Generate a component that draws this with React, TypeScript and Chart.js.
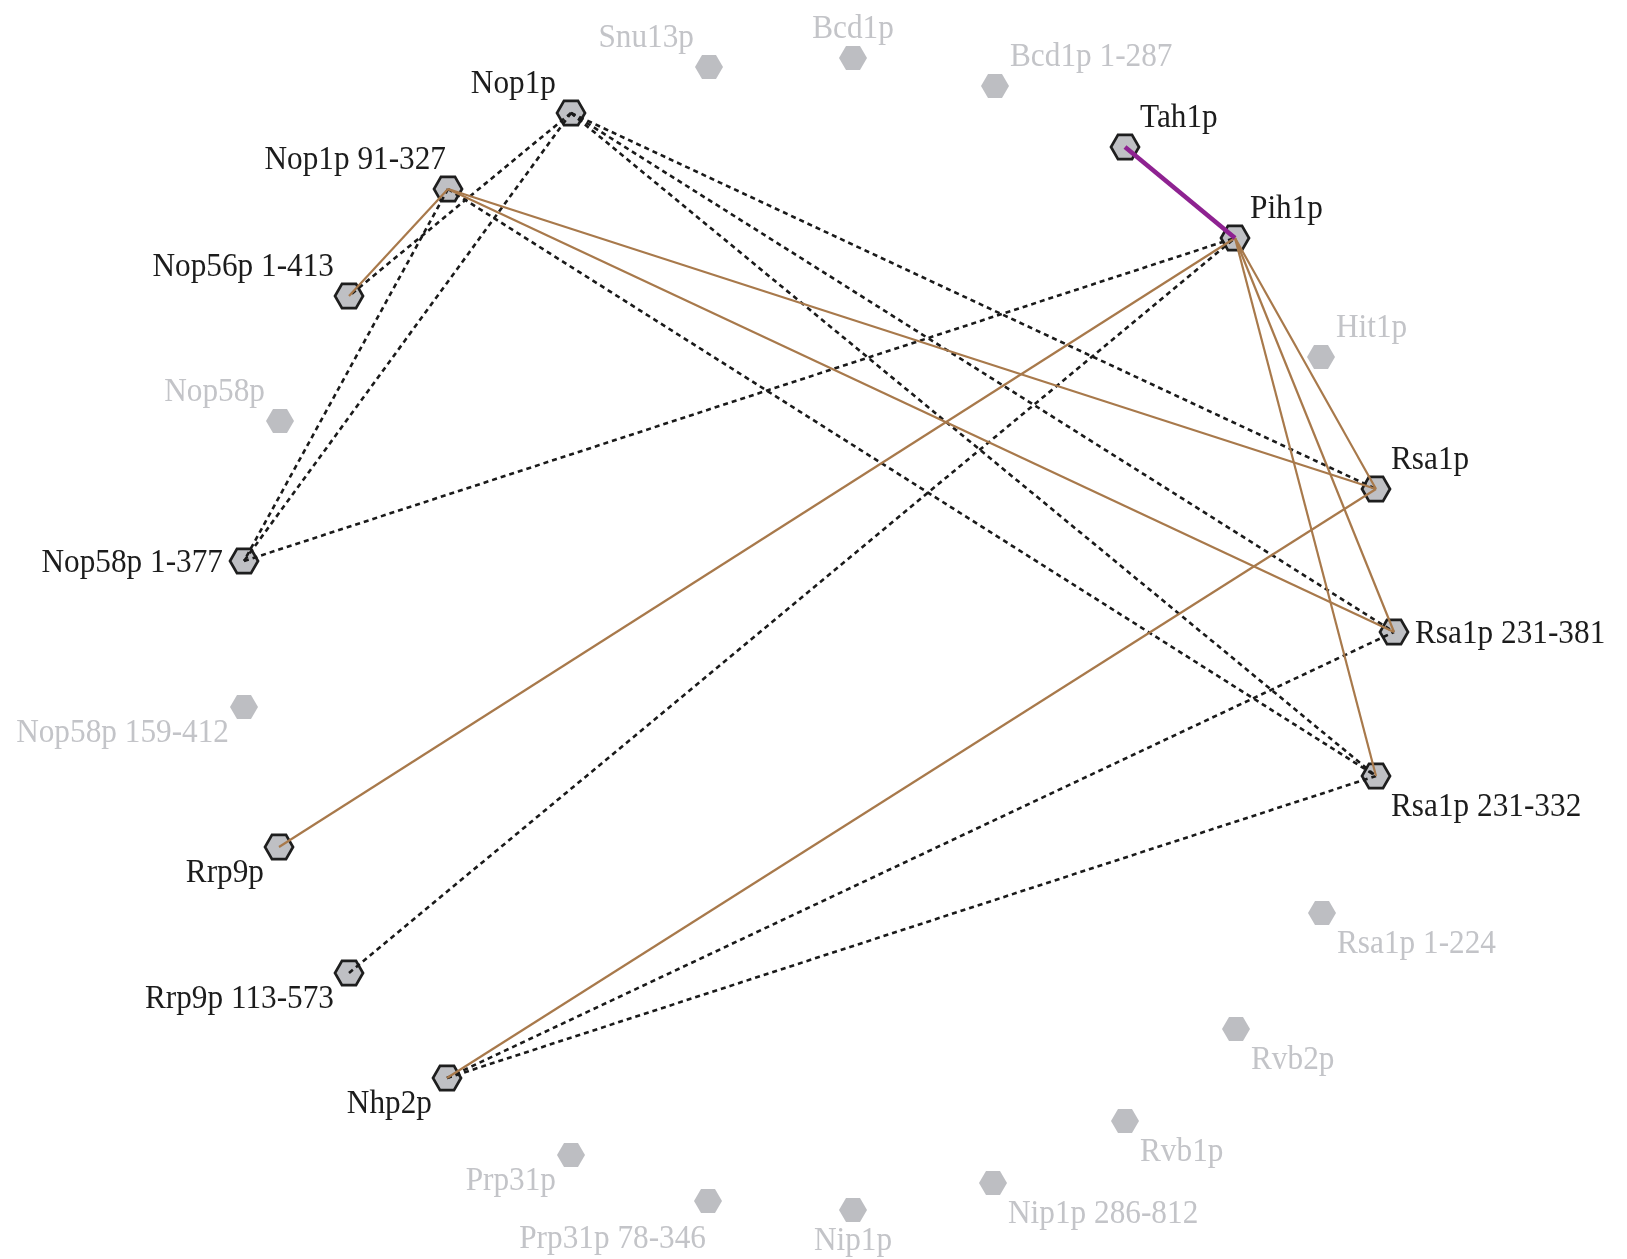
import React, { useEffect, useRef } from "react";
import { Chart, registerables } from "chart.js";

Chart.register(...registerables);

// Nodes that take part in interactions (dark outline, black label)
const activeNames = [
  "Nop1p", "Nop1p 91-327", "Nop56p 1-413", "Nop58p 1-377", "Rrp9p", "Rrp9p 113-573",
  "Nhp2p", "Tah1p", "Pih1p", "Rsa1p", "Rsa1p 231-381", "Rsa1p 231-332",
];
const activeX = [571, 448, 349, 244, 279, 349, 447, 1125, 1235, 1376, 1394, 1376];
const activeY = [113, 189, 296, 561, 847, 973, 1078, 147, 238, 489, 632, 776];

// Nodes without interactions (grey)
const inactiveNames = [
  "Snu13p", "Bcd1p", "Bcd1p 1-287", "Hit1p", "Nop58p", "Nop58p 159-412", "Rsa1p 1-224",
  "Rvb2p", "Rvb1p", "Nip1p 286-812", "Nip1p", "Prp31p 78-346", "Prp31p",
];
const inactiveX = [709, 853, 995, 1321, 280, 244, 1322, 1236, 1125, 993, 853, 708, 571];
const inactiveY = [67, 58, 86, 357, 421, 707, 913, 1029, 1121, 1183, 1210, 1201, 1155];

// Interactions
const solidEdges: [string, string][] = [
  ["Nop56p 1-413", "Nop1p 91-327"],
  ["Nop1p 91-327", "Rsa1p"],
  ["Nop1p 91-327", "Rsa1p 231-381"],
  ["Rrp9p", "Pih1p"],
  ["Nhp2p", "Rsa1p"],
  ["Pih1p", "Rsa1p"],
  ["Pih1p", "Rsa1p 231-381"],
  ["Pih1p", "Rsa1p 231-332"],
];
const dottedEdges: [string, string][] = [
  ["Nop1p", "Nop56p 1-413"],
  ["Nop1p", "Nop58p 1-377"],
  ["Nop1p 91-327", "Nop58p 1-377"],
  ["Nop1p", "Rsa1p"],
  ["Nop1p", "Rsa1p 231-381"],
  ["Nop1p", "Rsa1p 231-332"],
  ["Nop1p 91-327", "Rsa1p 231-332"],
  ["Nop58p 1-377", "Pih1p"],
  ["Rrp9p 113-573", "Pih1p"],
  ["Nhp2p", "Rsa1p 231-381"],
  ["Nhp2p", "Rsa1p 231-332"],
];
const purpleEdges: [string, string][] = [["Tah1p", "Pih1p"]];

const W = 1627;
const H = 1259;

// small label placement tweaks (pixels)
const labelNudge: Record<string, [number, number]> = {
  "Nop1p 91-327": [13, 0],
  "Prp31p 78-346": [13, 12],
};

function makeHex(fill: string, stroke: string | null) {
  const c = document.createElement("canvas");
  c.width = 34;
  c.height = 30;
  const ctx = c.getContext("2d")!;
  ctx.beginPath();
  for (let i = 0; i < 6; i++) {
    const a = (i * Math.PI) / 3;
    const x = 17 + 14 * Math.cos(a);
    const y = 15 + 14 * Math.sin(a);
    if (i === 0) ctx.moveTo(x, y);
    else ctx.lineTo(x, y);
  }
  ctx.closePath();
  ctx.fillStyle = fill;
  ctx.fill();
  if (stroke) {
    ctx.lineWidth = 2.7;
    ctx.strokeStyle = stroke;
    ctx.stroke();
  }
  return c;
}

function findNode(name: string) {
  let i = activeNames.indexOf(name);
  if (i >= 0) return { x: activeX[i], y: activeY[i] };
  i = inactiveNames.indexOf(name);
  return { x: inactiveX[i], y: inactiveY[i] };
}

const labelPlugin = {
  id: "nodeLabels",
  afterDatasetsDraw(chart: any) {
    const ctx = chart.ctx;
    const xs = chart.scales.x;
    const ys = chart.scales.y;
    const allX = [...activeX, ...inactiveX];
    const allY = [...activeY, ...inactiveY];
    const cxv = allX.reduce((a, b) => a + b, 0) / allX.length;
    const cyv = allY.reduce((a, b) => a + b, 0) / allY.length;
    const cx = xs.getPixelForValue(cxv);
    const cy = ys.getPixelForValue(cyv);
    ctx.save();
    ctx.font = '34px "Liberation Serif", "Times New Roman", serif';
    ctx.textBaseline = "alphabetic";
    const groups = [
      { names: activeNames, xv: activeX, yv: activeY, color: "#1c1c1c" },
      { names: inactiveNames, xv: inactiveX, yv: inactiveY, color: "#c3c4c8" },
    ];
    for (const g of groups) {
      ctx.fillStyle = g.color;
      g.names.forEach((name, i) => {
        const px = xs.getPixelForValue(g.xv[i]);
        const py = ys.getPixelForValue(g.yv[i]);
        const dx = px - cx;
        const dy = py - cy;
        let ly = py;
        let middle = false;
        if (dy < -110) ly = py - 31;
        else if (dy > 60) ly = py + (dx < -60 ? 24 : 29);
        else middle = true;
        const gap = middle ? 21 : 15;
        let lx = px;
        if (Math.abs(dx) < 60) {
          ctx.textAlign = "center";
        } else if (dx < 0) {
          ctx.textAlign = "right";
          lx = px - gap;
        } else {
          ctx.textAlign = "left";
          lx = px + gap;
        }
        const n = labelNudge[name];
        if (n) {
          lx += n[0];
          ly += n[1];
        }
        ctx.save();
        ctx.translate(lx, ly + 11.3);
        ctx.scale(0.92, 1);
        ctx.fillText(name, 0, 0);
        ctx.restore();
      });
    }
    ctx.restore();
  },
};

export default function App() {
  const ref = useRef<HTMLCanvasElement | null>(null);

  useEffect(() => {
    document.body.style.margin = "0";
    const canvas = ref.current!;
    const activeHex = makeHex("#bfc0c4", "#1e1e1e");
    const inactiveHex = makeHex("#bdbec2", null);

    const edgeSet = (edges: [string, string][], color: string, width: number, dash: number[], order: number) =>
      edges.map(([a, b]) => ({
        type: "scatter" as const,
        data: [findNode(a), findNode(b)],
        showLine: true,
        borderColor: color,
        borderWidth: width,
        borderDash: dash,
        borderCapStyle: "butt" as const,
        pointRadius: 0,
        pointHoverRadius: 0,
        order,
        clip: false as any,
      }));

    const chart = new Chart(canvas, {
      type: "scatter",
      data: {
        datasets: [
          ...edgeSet(purpleEdges, "#8e2291", 4.5, [], 0),
          ...edgeSet(solidEdges, "#a8794b", 2.2, [], 1),
          ...edgeSet(dottedEdges, "#1a1a1a", 2.6, [5, 4], 2),
          {
            data: activeX.map((x, i) => ({ x, y: activeY[i] })),
            pointStyle: activeHex as any,
            pointRadius: 14,
            order: 10,
            clip: false as any,
          },
          {
            data: inactiveX.map((x, i) => ({ x, y: inactiveY[i] })),
            pointStyle: inactiveHex as any,
            pointRadius: 14,
            order: 11,
            clip: false as any,
          },
        ] as any,
      },
      options: {
        responsive: false,
        animation: false,
        devicePixelRatio: 1,
        layout: { padding: 0, autoPadding: false },
        plugins: { legend: { display: false }, tooltip: { enabled: false } },
        events: [],
        scales: {
          x: { type: "linear", min: 0, max: W, display: false },
          y: { type: "linear", min: 0, max: H, reverse: true, display: false },
        },
      },
      plugins: [labelPlugin],
    });
    return () => chart.destroy();
  }, []);

  return (
    <div style={{ position: "absolute", left: 0, top: 0, width: W, height: H, background: "#fff" }}>
      <canvas ref={ref} width={W} height={H} style={{ display: "block" }} />
    </div>
  );
}
